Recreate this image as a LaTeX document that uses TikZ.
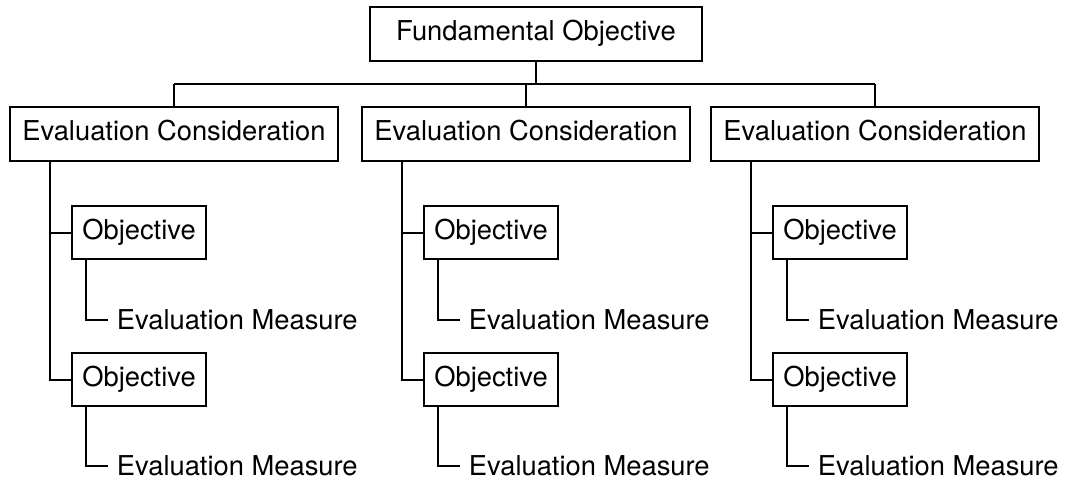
\documentclass[tikz,border=0pt]{standalone}
\usepackage{fontspec}
\setmainfont{TeX Gyre Heros}
\tikzset{
  box/.style={draw, line width=1.5pt, inner sep=0pt, minimum height=40pt,
    text height=14.5pt, text depth=4.5pt, font=\fontsize{20.5}{24}\selectfont},
  measure/.style={inner xsep=6.5pt, inner ysep=0pt, font=\fontsize{20.5}{24}\selectfont},
  link/.style={line width=1.5pt}
}
\begin{document}
\begin{tikzpicture}[x=0.75pt, y=-0.75pt]
	\useasboundingbox (0,0) rectangle (1065,485);
	\node[box, minimum width=249pt] (fund) at (536,34) {Fundamental Objective};
	\coordinate (bus) at (537,84);
	% one column per evaluation consideration
	\foreach \n/\l in {1/9, 2/361, 3/710} {
		\node[box, minimum width=246pt, anchor=west] (ec\n) at (\l,134) {Evaluation Consideration};
		\draw[link] (ec\n.north) -- (ec\n.north |- bus);
		\coordinate (trunk\n) at (\l+41,161);
		\node[box, minimum width=100.5pt, anchor=west] (obj\n-1) at (\l+62,232.5) {Objective};
		\node[box, minimum width=100.5pt, anchor=west] (obj\n-2) at (\l+62,379.5) {Objective};
		\draw[link] (trunk\n) |- (obj\n-2.west);
		\draw[link] (obj\n-1.west) -- (obj\n-1.west -| trunk\n);
		\node[measure, anchor=west] (em\n-1) at (\l+99,320) {Evaluation Measure};
		\node[measure, anchor=west] (em\n-2) at (\l+99,466) {Evaluation Measure};
		\coordinate (leg\n-1) at (\l+77,259);
		\coordinate (leg\n-2) at (\l+77,406);
		\draw[link] (leg\n-1) |- (em\n-1.west);
		\draw[link] (leg\n-2) |- (em\n-2.west);
	}
	\draw[link] (fund.south) -- (fund.south |- bus);
	\draw[link] (ec1.north |- bus) -- (ec3.north |- bus);
\end{tikzpicture}
\end{document}
